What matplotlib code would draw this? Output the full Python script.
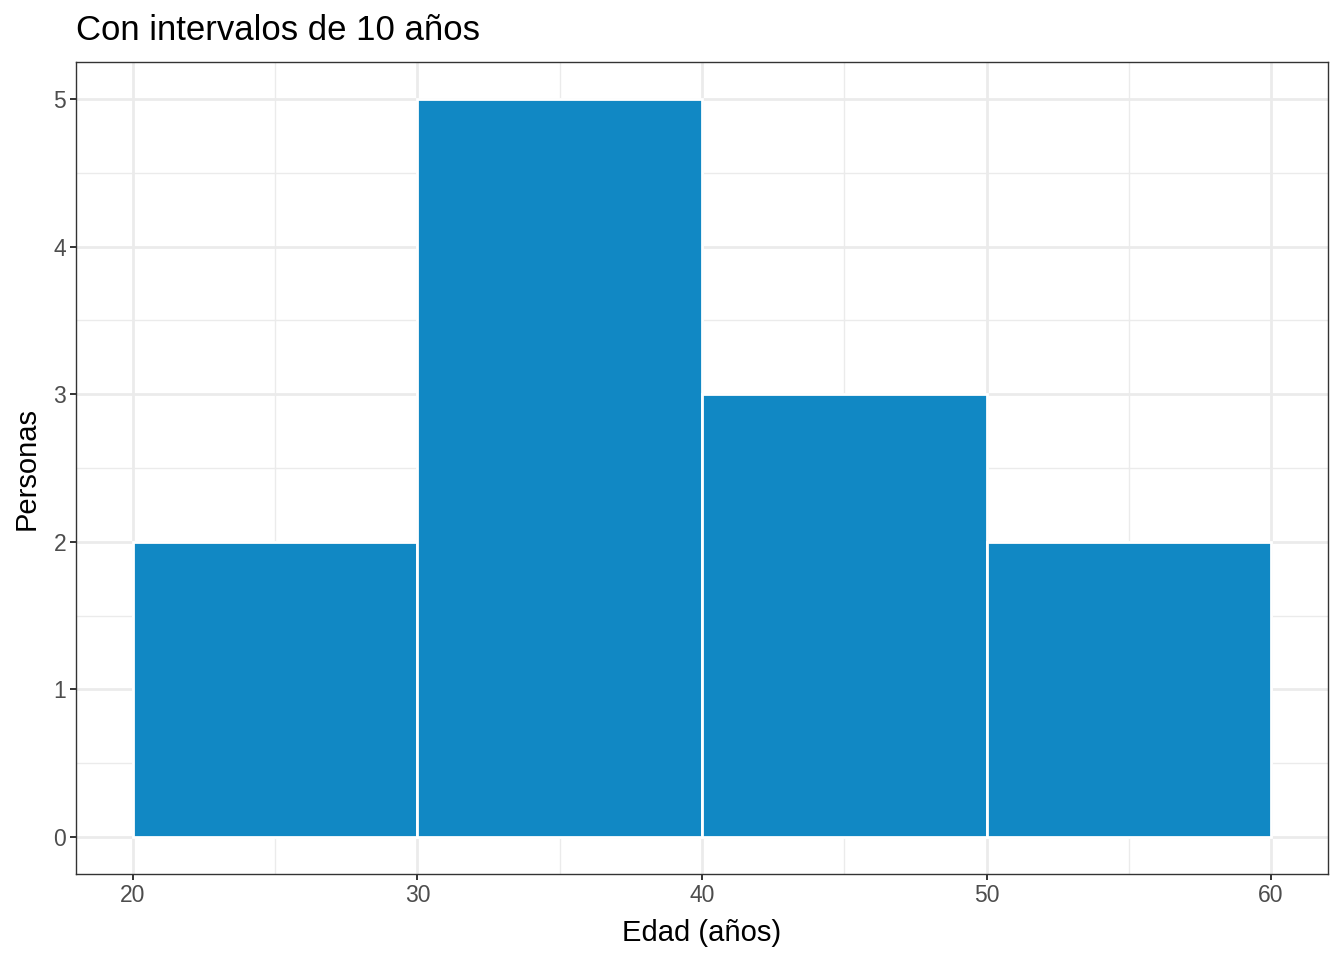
import numpy as np
import matplotlib
matplotlib.use('Agg')
import matplotlib.pyplot as plt

# histogram bins and counts
bin_edges = [20, 30, 40, 50, 60]
counts = [2, 5, 3, 2]
x_ticks = [20, 30, 40, 50, 60]
y_ticks = [0, 1, 2, 3, 4, 5]

plt.rcParams['font.family'] = ['Liberation Sans', 'DejaVu Sans']

fig = plt.figure(figsize=(13.44, 9.6), dpi=100)
ax = fig.add_axes([76 / 1344, 86 / 960, 1252 / 1344, 812 / 960])

ax.bar(bin_edges[:-1], counts, width=np.diff(bin_edges), align='edge',
       color='#1188C4', edgecolor='white', linewidth=2, zorder=3)

ax.set_xlim(18, 62)
ax.set_ylim(-0.25, 5.25)
ax.set_xticks(x_ticks)
ax.set_yticks(y_ticks)
ax.set_xticks([25, 35, 45, 55], minor=True)
ax.set_yticks([0.5, 1.5, 2.5, 3.5, 4.5], minor=True)

ax.grid(which='major', color='#EBEBEB', linewidth=2.0, zorder=0)
ax.grid(which='minor', color='#EBEBEB', linewidth=1.0, zorder=0)
ax.set_axisbelow(True)

for s in ax.spines.values():
    s.set_color('#333333')
    s.set_linewidth(1.0)

ax.tick_params(which='major', length=4, width=1.4, color='#333333',
               labelcolor='#4D4D4D', labelsize=16.5, pad=3)
ax.tick_params(which='minor', length=0)

ax.set_xlabel('Edad (años)', fontsize=21, labelpad=9)
ax.set_ylabel('Personas', fontsize=21, labelpad=9)
ax.set_title('Con intervalos de 10 años', loc='left', fontsize=25, pad=16)

fig.savefig('out.png', dpi=100)
